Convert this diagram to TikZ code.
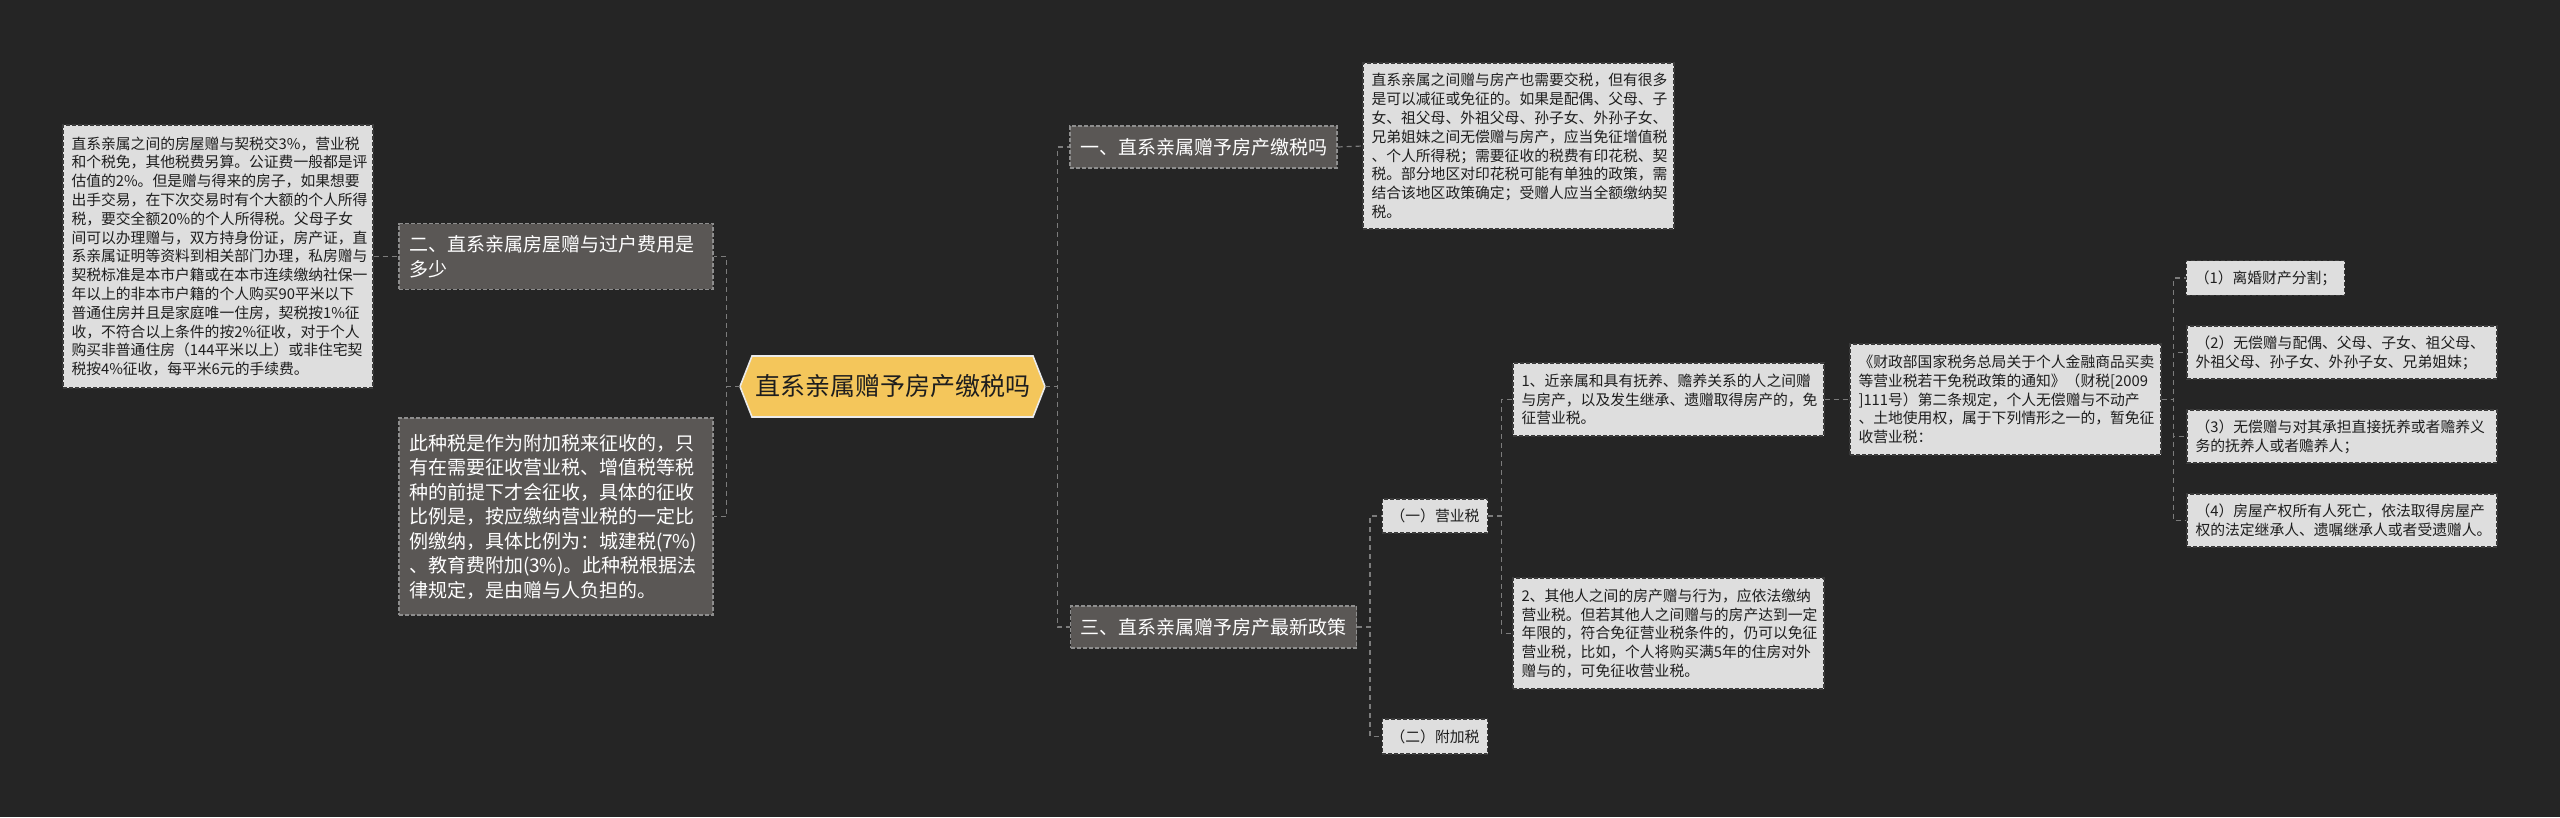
\documentclass[tikz,border=0pt]{standalone}
\usepackage{fontspec}
\setmainfont{Noto Sans CJK SC}
\usetikzlibrary{positioning}
\definecolor{bgdark}{HTML}{252525}
\definecolor{linkgray}{HTML}{7C7C7C}
\definecolor{leaffill}{HTML}{DEDEDE}
\definecolor{leafedge}{HTML}{3A3A3A}
\definecolor{midfill}{HTML}{5A5755}
\definecolor{midedge}{HTML}{8E8E8E}
\definecolor{rootfill}{HTML}{F4C65B}
\definecolor{inkdark}{HTML}{1E1E1E}
\tikzset{
  link/.style={line width=1.2pt,draw=linkgray,dash pattern=on 5pt off 4pt},
  leaf/.style={draw=leafedge,fill=leaffill,line width=1.1pt,dash pattern=on 4pt off 2pt,
    text=inkdark,align=left,inner xsep=8.5pt,inner ysep=9.6pt,
    font=\fontsize{14.8}{18.8}\selectfont},
  midbox/.style={draw=midedge,fill=midfill,line width=1.1pt,dash pattern=on 4pt off 2pt,
    text=white,align=left,inner xsep=10pt,inner ysep=11.5pt,
    font=\fontsize{19}{25}\selectfont},
  rootframe/.style={fill=rootfill,draw=white!92!black,line width=1.6pt},
}
\begin{document}
\begin{tikzpicture}[x=1pt,y=-1pt]
  \useasboundingbox[fill=bgdark] (0,0) rectangle (2560,817);
  % central topic
  \filldraw[rootframe] (740,386.5) -- (752,356) -- (1033,356) -- (1045,386.5)
    -- (1033,417) -- (752,417) -- cycle;
  \node[minimum width=305,minimum height=61,text=inkdark,
    font=\fontsize{25}{30}\selectfont] (root) at (892.5,386.5) {直系亲属赠予房产缴税吗};

  % left branch
  \node[midbox,text width=294] (sec2) at (556,256.5)
    {二、直系亲属房屋赠与过户费用是\\多少};
  \node[midbox,text width=294,minimum height=197,font=\fontsize{19}{24.5}\selectfont]
    (sec2b) at (556,516.5)
    {此种税是作为附加税来征收的，只\\有在需要征收营业税、增值税等税\\种的前提下才会征收，具体的征收\\比例是，按应缴纳营业税的一定比\\例缴纳，具体比例为：城建税(7\%)\\、教育费附加(3\%)。此种税根据法\\律规定，是由赠与人负担的。};
  \node[leaf,text width=293,minimum height=263] (gift) at (218,256.5)
    {直系亲属之间的房屋赠与契税交3\%，营业税\\和个税免，其他税费另算。公证费一般都是评\\估值的2\%。但是赠与得来的房子，如果想要\\出手交易，在下次交易时有个大额的个人所得\\税，要交全额20\%的个人所得税。父母子女\\间可以办理赠与，双方持身份证，房产证，直\\系亲属证明等资料到相关部门办理，私房赠与\\契税标准是本市户籍或在本市连续缴纳社保一\\年以上的非本市户籍的个人购买90平米以下\\普通住房并且是家庭唯一住房，契税按1\%征\\收，不符合以上条件的按2\%征收，对于个人\\购买非普通住房（144平米以上）或非住宅契\\税按4\%征收，每平米6元的手续费。};

  % right branch
  \node[midbox,minimum width=265,minimum height=42,inner ysep=8pt] (sec1) at (1203.5,147)
    {一、直系亲属赠予房产缴税吗};
  \node[leaf,text width=294,minimum height=166] (intro) at (1518.5,146)
    {直系亲属之间赠与房产也需要交税，但有很多\\是可以减征或免征的。如果是配偶、父母、子\\女、祖父母、外祖父母、孙子女、外孙子女、\\兄弟姐妹之间无偿赠与房产，应当免征增值税\\、个人所得税；需要征收的税费有印花税、契\\税。部分地区对印花税可能有单独的政策，需\\结合该地区政策确定；受赠人应当全额缴纳契\\税。};
  \node[midbox,minimum width=285,minimum height=42,inner ysep=8pt] (sec3) at (1213.5,627)
    {三、直系亲属赠予房产最新政策};
  \node[leaf,minimum width=104,minimum height=34] (biz) at (1435,516) {（一）营业税};
  \node[leaf,minimum width=104,minimum height=35] (extra) at (1435,736.5) {（二）附加税};
  \node[leaf,text width=294,minimum height=73] (near) at (1668.5,399.5)
    {1、近亲属和具有抚养、赡养关系的人之间赠\\与房产，以及发生继承、遗赠取得房产的，免\\征营业税。};
  \node[leaf,text width=294,minimum height=111] (other) at (1668.5,633.5)
    {2、其他人之间的房产赠与行为，应依法缴纳\\营业税。但若其他人之间赠与的房产达到一定\\年限的，符合免征营业税条件的，仍可以免征\\营业税，比如，个人将购买满5年的住房对外\\赠与的，可免征收营业税。};
  \node[leaf,text width=294,minimum height=111] (law) at (2005.5,399.5)
    {《财政部国家税务总局关于个人金融商品买卖\\等营业税若干免税政策的通知》（财税[2009\\]111号）第二条规定，个人无偿赠与不动产\\、土地使用权，属于下列情形之一的，暂免征\\收营业税：};
  \node[leaf,minimum width=157,minimum height=34] (case1) at (2265.5,278)
    {（1）离婚财产分割；};
  \node[leaf,text width=293,minimum height=53] (case2) at (2342,352.5)
    {（2）无偿赠与配偶、父母、子女、祖父母、\\外祖父母、孙子女、外孙子女、兄弟姐妹；};
  \node[leaf,text width=293,minimum height=53] (case3) at (2342,436.5)
    {（3）无偿赠与对其承担直接抚养或者赡养义\\务的抚养人或者赡养人；};
  \node[leaf,text width=293,minimum height=53] (case4) at (2342,520.5)
    {（4）房屋产权所有人死亡，依法取得房屋产\\权的法定继承人、遗嘱继承人或者受遗赠人。};

  % connectors
  \foreach \kid in {sec2,sec2b}
    \draw[link] (root.west) -- ++(-13,0) |- (\kid.east);
  \foreach \kid in {sec1,sec3}
    \draw[link] (root.east) -- ++(12,0) |- (\kid.west);
  \draw[link] (gift.east) -- (sec2.west);
  \draw[link] (sec1.east) -- (intro.west);
  \foreach \kid in {biz,extra}
    \draw[link] (sec3.east) -- ++(13,0) |- (\kid.west);
  \foreach \kid in {near,other}
    \draw[link] (biz.east) -- ++(13,0) |- (\kid.west);
  \draw[link] (near.east) -- (law.west);
  \foreach \kid in {case1,case2,case3,case4}
    \draw[link] (law.east) -- ++(12,0) |- (\kid.west);
\end{tikzpicture}
\end{document}
